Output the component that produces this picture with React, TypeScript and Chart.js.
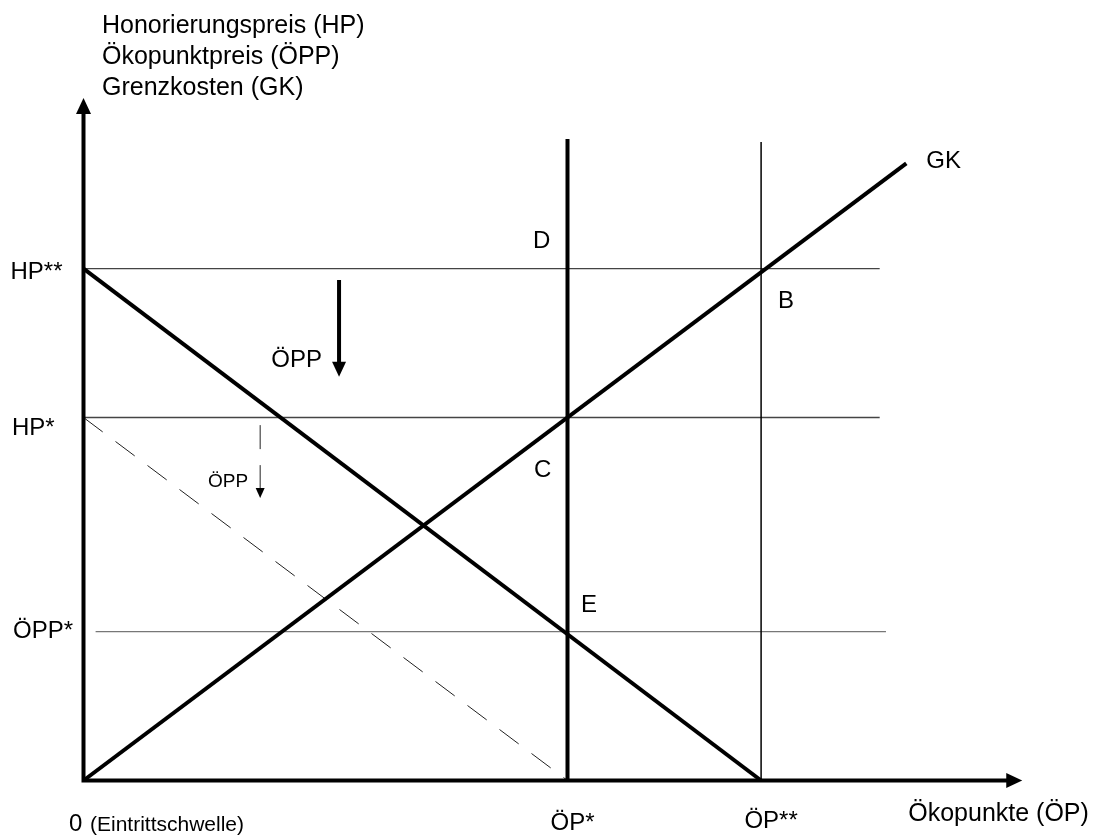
import React, { useEffect, useRef } from "react";
import { Chart, registerables } from "chart.js";

Chart.register(...registerables);

// ---- Data (model units) ----
const OP_STAR = 10; // ÖP*
const OP_2STAR = 14; // ÖP**
const HP_STAR = 10; // HP*
const HP_2STAR = 14.1; // HP**
const OPP_STAR = 4.1; // ÖPP*

const gkX = [0, 17];
const gkY = [0, 17];
const demandX = [0, OP_2STAR];
const demandY = [HP_2STAR, 0];
const shiftedX = [0, OP_STAR];
const shiftedY = [HP_STAR, 0];

const guideEndX = [16.45, 16.45, 16.58]; // HP**, HP*, ÖPP* horizontal guide ends
const oppGuideStartX = 0.25;
const opStarTop = 17.67;
const op2StarTop = 17.59;

const yAxisEnd = 18.58;
const xAxisEnd = 19.23;

const bigArrowX = 5.28;
const bigArrowY = [13.79, 11.34];
const smallArrowX = 3.65;
const smallArrowY = [9.79, 7.95];

const titleLines = [
  "Honorierungspreis (HP)",
  "Ökopunktpreis (ÖPP)",
  "Grenzkosten (GK)",
];
const xTickLabels = ["ÖP*", "ÖP**"];
const yTickLabels = ["HP**", "HP*", "ÖPP*"];

const pts = (xs: number[], ys: number[]) => xs.map((v, i) => ({ x: v, y: ys[i] }));

const FONT = '"Liberation Sans", Arial, sans-serif';

const annotationPlugin = {
  id: "annotations",
  afterDatasetsDraw(chart: any) {
    const { ctx } = chart;
    const xs = chart.scales.x;
    const ys = chart.scales.y;
    const px = (v: number) => xs.getPixelForValue(v);
    const py = (v: number) => ys.getPixelForValue(v);

    const head = (tx: number, ty: number, dx: number, dy: number, len: number, hw: number) => {
      const bx = tx - dx * len;
      const by = ty - dy * len;
      const nx = -dy;
      const ny = dx;
      ctx.beginPath();
      ctx.moveTo(tx, ty);
      ctx.lineTo(bx + nx * hw, by + ny * hw);
      ctx.lineTo(bx - nx * hw, by - ny * hw);
      ctx.closePath();
      ctx.fill();
    };

    ctx.save();
    ctx.fillStyle = "#000";
    // axis arrowheads
    head(px(0), py(yAxisEnd) - 8, 0, -1, 16, 7.5);
    head(px(xAxisEnd) + 8, py(0), 1, 0, 16, 7.5);
    // price shift arrows
    head(px(bigArrowX), py(bigArrowY[1]) + 8, 0, 1, 15, 7);
    head(px(smallArrowX), py(smallArrowY[1]) + 6, 0, 1, 10, 4.5);

    const text = (t: string, x: number, y: number, size: number, align: CanvasTextAlign = "left") => {
      ctx.font = `${size}px ${FONT}`;
      ctx.textAlign = align;
      ctx.textBaseline = "alphabetic";
      ctx.fillText(t, x, y);
    };

    const ox = px(0);
    const oy = py(0);
    const yTip = py(yAxisEnd) - 8;
    // axis title (y)
    text(titleLines[0], ox + 18.5, yTip - 65, 25);
    text(titleLines[1], ox + 18.5, yTip - 34, 25);
    text(titleLines[2], ox + 18.5, yTip - 3, 25);
    // y tick labels
    text(yTickLabels[0], ox - 21, py(HP_2STAR) + 10, 24, "right");
    text(yTickLabels[1], ox - 71.5, py(HP_STAR) + 17, 24);
    text(yTickLabels[2], ox - 70.5, py(OPP_STAR) + 6, 24);
    // origin
    text("0", ox - 14.5, oy + 50.5, 24);
    text("(Eintrittschwelle)", ox + 6.5, oy + 50.5, 21);
    // x tick labels
    text(xTickLabels[0], px(OP_STAR) + 5, oy + 49.5, 24, "center");
    text(xTickLabels[1], px(OP_2STAR) + 10, oy + 47.5, 24, "center");
    // x axis title
    text("Ökopunkte (ÖP)", px(xAxisEnd) - 106, oy + 40.5, 25);
    // curve / point labels
    text("GK", px(gkX[1]) + 20, py(gkY[1]) + 4.6, 24);
    text("D", px(OP_STAR) - 34.5, py(HP_2STAR) - 20.7, 24);
    text("C", px(OP_STAR) - 33.5, py(HP_STAR) + 59.5, 24);
    text("E", px(OP_STAR) + 13.5, py(OPP_STAR) - 19.7, 24);
    text("B", px(OP_2STAR) + 17, py(HP_2STAR) + 39.3, 24);
    text("ÖPP", px(bigArrowX) - 17, py(bigArrowY[1]) - 2, 24, "right");
    text("ÖPP", px(smallArrowX) - 12, py(smallArrowY[1]) - 5, 19, "right");
    ctx.restore();
  },
};

export default function App() {
  const ref = useRef<HTMLCanvasElement | null>(null);

  useEffect(() => {
    if (!ref.current) return;
    const thick = { borderColor: "#000", borderWidth: 4, pointRadius: 0, showLine: true, fill: false, tension: 0, clip: false as any };
    const thin = { borderColor: "#555", borderWidth: 1.3, pointRadius: 0, showLine: true, fill: false, tension: 0, clip: false as any };

    const chart = new Chart(ref.current, {
      type: "scatter",
      data: {
        datasets: [
          { ...thick, label: "Achsen", data: [{ x: 0, y: yAxisEnd }, { x: 0, y: 0 }, { x: xAxisEnd, y: 0 }], borderJoinStyle: "miter" },
          { ...thick, label: "GK", data: pts(gkX, gkY) },
          { ...thick, label: "HP", data: pts(demandX, demandY) },
          { ...thick, label: "ÖP*", data: [{ x: OP_STAR, y: 0 }, { x: OP_STAR, y: opStarTop }] },
          { ...thick, label: "ÖPP Pfeil", data: [{ x: bigArrowX, y: bigArrowY[0] }, { x: bigArrowX, y: bigArrowY[1] }] },
          { ...thin, borderColor: "#000", borderWidth: 1.5, label: "ÖP**", data: [{ x: OP_2STAR, y: 0 }, { x: OP_2STAR, y: op2StarTop }] },
          { ...thin, borderColor: "#222", borderWidth: 1, borderDash: [24, 16], label: "HP verschoben", data: pts(shiftedX, shiftedY) },
          { ...thin, borderColor: "#222", borderWidth: 1, borderDash: [24, 16], label: "ÖPP Pfeil klein", data: [{ x: smallArrowX, y: smallArrowY[0] }, { x: smallArrowX, y: smallArrowY[1] }] },
          { ...thin, borderColor: "#444", label: "HP**", data: [{ x: 0, y: HP_2STAR }, { x: guideEndX[0], y: HP_2STAR }] },
          { ...thin, borderColor: "#444", label: "HP*", data: [{ x: 0, y: HP_STAR }, { x: guideEndX[1], y: HP_STAR }] },
          { ...thin, borderColor: "#777", label: "ÖPP*", data: [{ x: oppGuideStartX, y: OPP_STAR }, { x: guideEndX[2], y: OPP_STAR }] },
        ],
      },
      options: {
        animation: false,
        responsive: false,
        devicePixelRatio: 1,
        layout: { padding: { left: 83.5, right: 41.5, top: 54.5, bottom: 55.5 } },
        scales: {
          x: { type: "linear", min: 0, max: 20, display: false },
          y: { type: "linear", min: 0, max: 20, display: false },
        },
        plugins: { legend: { display: false }, tooltip: { enabled: false }, title: { display: false } },
        events: [],
      },
      plugins: [annotationPlugin],
    } as any);
    return () => chart.destroy();
  }, []);

  return (
    <div style={{ position: "fixed", left: 0, top: 0, width: 1093, height: 836, background: "#fff" }}>
      <canvas ref={ref} width={1093} height={836} style={{ display: "block", width: 1093, height: 836 }} />
    </div>
  );
}
